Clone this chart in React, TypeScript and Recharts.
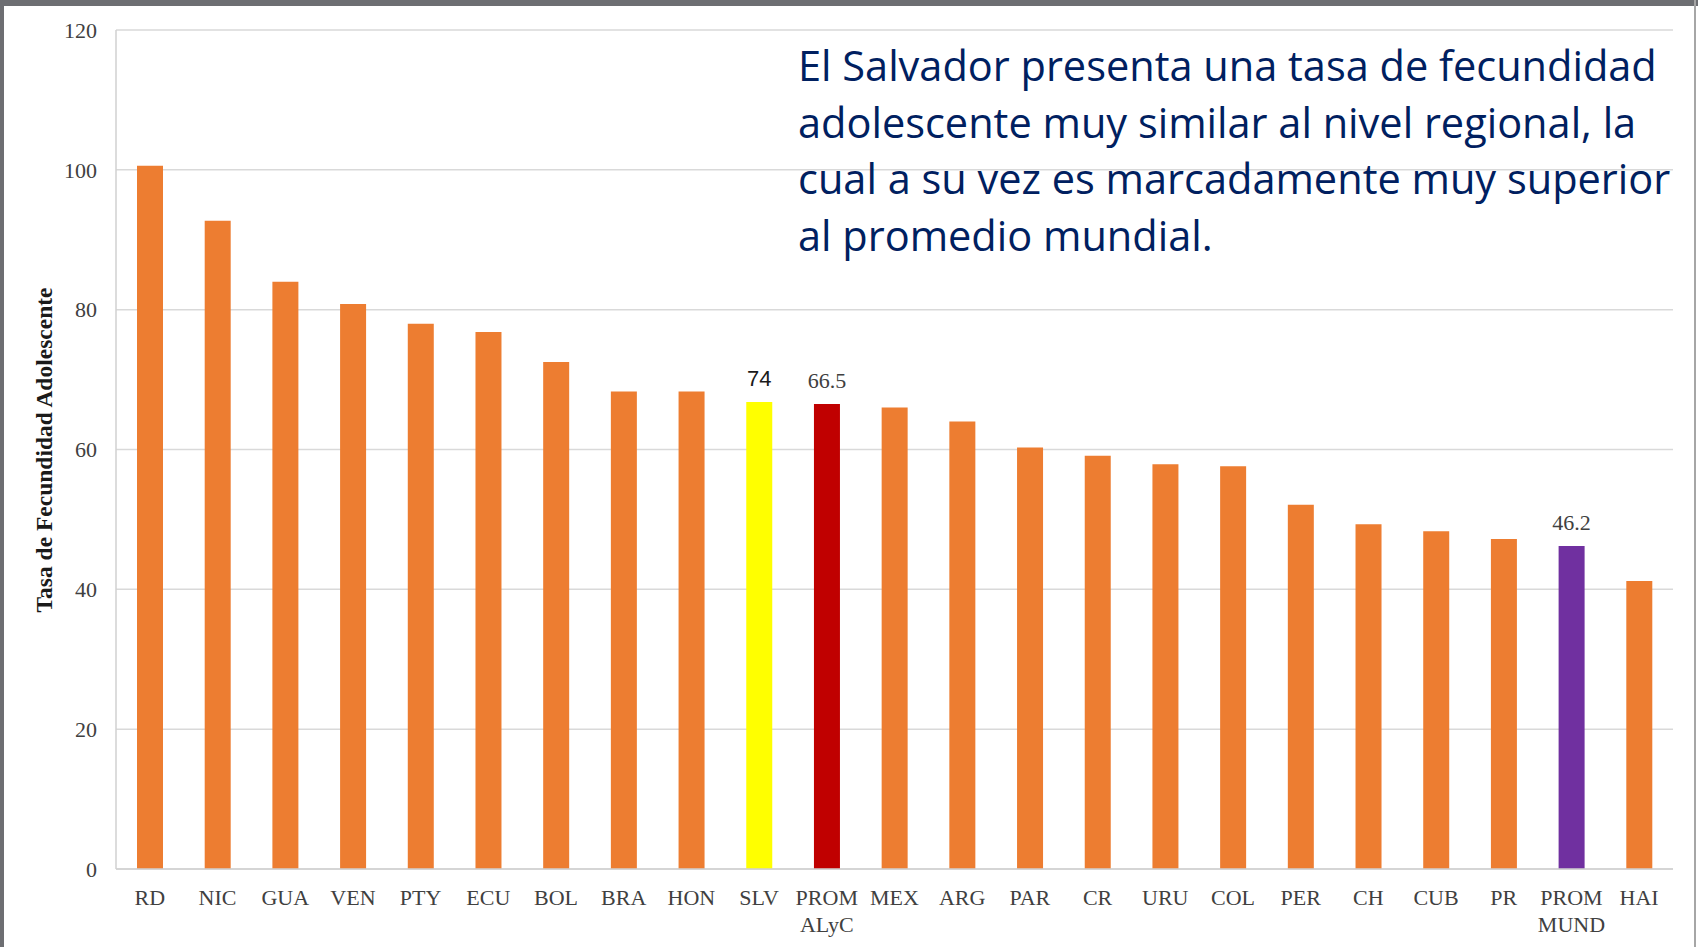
import { BarChart, Bar, XAxis, YAxis, CartesianGrid, Cell, LabelList } from "recharts";

const categories = [
  "RD", "NIC", "GUA", "VEN", "PTY", "ECU", "BOL", "BRA", "HON", "SLV", "PROM\nALyC", "MEX",
  "ARG", "PAR", "CR", "URU", "COL", "PER", "CH", "CUB", "PR", "PROM\nMUND", "HAI",
];

const rates = [
  100.6, 92.7, 84.0, 80.8, 78.0, 76.8, 72.5, 68.3, 68.3, 66.8, 66.5, 66.0,
  64.0, 60.3, 59.1, 57.9, 57.6, 52.1, 49.3, 48.3, 47.2, 46.2, 41.2,
];

const valueLabels = [
  "", "", "", "", "", "", "", "", "", "74", "66.5", "",
  "", "", "", "", "", "", "", "", "", "46.2", "",
];

const yTicks = [0, 20, 40, 60, 80, 100, 120];

const noteLines = [
  "El Salvador presenta una tasa de fecundidad",
  "adolescente muy similar al nivel regional, la",
  "cual a su vez es marcadamente muy superior",
  "al promedio mundial.",
];

// highlighted bars, everything else is orange
const barColors: Record<string, string> = {
  SLV: "#FFFF00",
  "PROM\nALyC": "#C00000",
  "PROM\nMUND": "#7030A0",
};
const ORANGE = "#ED7D31";

const chartData = categories.map((name, i) => ({
  name,
  rate: rates[i],
  label: valueLabels[i],
}));

const CategoryTick = (props: any) => {
  const { x, y, payload } = props;
  const lines = String(payload.value).split("\n");
  return (
    <text
      x={x}
      y={y + 36}
      textAnchor="middle"
      fill="#404040"
      fontFamily="'Liberation Serif', 'Times New Roman', serif"
      fontSize={22}
    >
      {lines.map((line, i) => (
        <tspan key={i} x={x} dy={i === 0 ? 0 : 27}>
          {line}
        </tspan>
      ))}
    </text>
  );
};

const ValueLabel = (props: any) => {
  const { x, y, width, value, index } = props;
  if (!value) return null;
  const sans = categories[index] === "SLV";
  return (
    <text
      x={x + width / 2}
      y={y - 16}
      textAnchor="middle"
      fill={sans ? "#1a1a1a" : "#404040"}
      fontFamily={sans ? "'Liberation Sans', Arial, sans-serif" : "'Liberation Serif', 'Times New Roman', serif"}
      fontSize={22}
    >
      {value}
    </text>
  );
};

const AxisTitle = () => (
  <text
    x={44}
    y={450}
    transform="rotate(-90, 44, 450)"
    textAnchor="middle"
    dominantBaseline="central"
    fill="#1a1a1a"
    fontFamily="'Liberation Serif', 'Times New Roman', serif"
    fontWeight="bold"
    fontSize={23.5}
  >
    Tasa de Fecundidad Adolescente
  </text>
);

export default function App() {
  return (
    <div style={{ position: "absolute", left: 0, top: 0, width: 1698, height: 947, background: "#fff", overflow: "hidden" }}>
      <BarChart
        width={1698}
        height={947}
        data={chartData}
        margin={{ top: 30, right: 25, left: 0, bottom: 0 }}
      >
        <CartesianGrid vertical={false} stroke="#d9d9d9" strokeWidth={1.5} />
        <XAxis
          dataKey="name"
          interval={0}
          height={78}
          tickLine={false}
          tickSize={0}
          tickMargin={0}
          axisLine={{ stroke: "#d0d0d0", strokeWidth: 1.5 }}
          tick={<CategoryTick />}
        />
        <YAxis
          width={116}
          domain={[0, 120]}
          ticks={yTicks}
          tickLine={false}
          tickSize={0}
          tickMargin={19}
          axisLine={{ stroke: "#d0d0d0", strokeWidth: 1.5 }}
          tick={{ fill: "#404040", fontSize: 22, fontFamily: "'Liberation Serif', 'Times New Roman', serif" }}
          label={<AxisTitle />}
        />
        <Bar dataKey="rate" barSize={26} isAnimationActive={false}>
          {chartData.map((d) => (
            <Cell key={d.name} fill={barColors[d.name] ?? ORANGE} />
          ))}
          <LabelList dataKey="label" content={<ValueLabel />} />
        </Bar>
      </BarChart>

      <div
        style={{
          position: "absolute",
          left: 798,
          top: 37,
          color: "#002060",
          fontFamily: "'Open Sans', Lato, sans-serif",
          fontSize: 41.5,
          lineHeight: "56.5px",
          whiteSpace: "nowrap",
        }}
      >
        {noteLines.map((line) => (
          <div key={line}>{line}</div>
        ))}
      </div>

      {/* slide frame */}
      <div style={{ position: "absolute", left: 0, top: 0, width: 1698, height: 6, background: "#6d6e72" }} />
      <div style={{ position: "absolute", left: 0, top: 0, width: 4, height: 947, background: "#6d6e72" }} />
      <div style={{ position: "absolute", left: 1694, top: 0, width: 2, height: 947, background: "#a6a6a6" }} />
    </div>
  );
}
